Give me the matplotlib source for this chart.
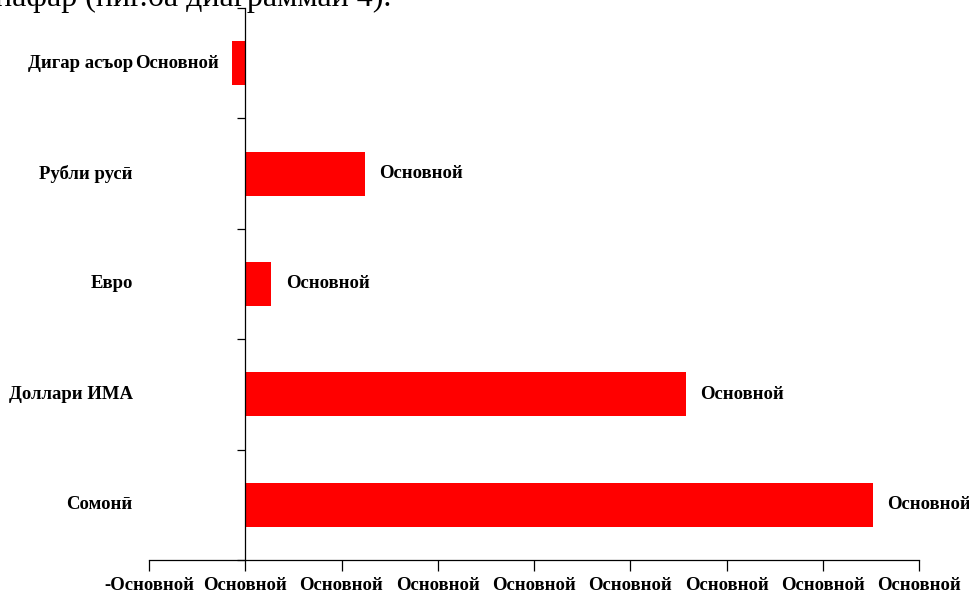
import numpy as np
import matplotlib.pyplot as plt

# categories from bottom to top
categories = ['Сомонӣ', 'Доллари ИМА', 'Евро', 'Рубли русӣ', 'Дигар асъор']
values = [6.52, 4.58, 0.27, 1.24, -0.135]
bar_label = 'Основной'
xticks = [-1, 0, 1, 2, 3, 4, 5, 6, 7]
xtick_labels = ['-Основной'] + ['Основной'] * 8

plt.rcParams['font.family'] = ['Liberation Serif', 'DejaVu Serif']
fs = 13.5

fig = plt.figure(figsize=(9.7, 5.93), dpi=100)
ax = fig.add_axes([149/970, 33/593, 770/970, 552/593])

y = np.arange(len(categories))
ax.barh(y, values, height=0.4, color='#ff0000')

ax.set_xlim(-1, 7)
ax.set_ylim(-0.5, len(categories) - 0.5)

for yi, v in zip(y, values):
    if v >= 0:
        ax.text(v + 0.15, yi, bar_label, ha='left', va='center',
                fontsize=fs, fontweight='bold')
    else:
        ax.text(v - 0.14, yi, bar_label, ha='right', va='center',
                fontsize=fs, fontweight='bold')

ax.spines['top'].set_visible(False)
ax.spines['right'].set_visible(False)
ax.spines['left'].set_position(('data', 0))
ax.spines['left'].set_linewidth(0.9)
ax.spines['bottom'].set_linewidth(0.9)

ax.set_xticks(xticks)
ax.set_xticklabels(xtick_labels, fontsize=fs, fontweight='bold')
ax.tick_params(axis='x', direction='out', length=8, width=0.9, pad=4)

ax.set_yticks(np.arange(-0.5, len(categories)), minor=False)
ax.set_yticklabels([])
ax.tick_params(axis='y', direction='out', length=6, width=0.9)
for yi, c in zip(y, categories):
    ax.text(-1.17, yi, c, ha='right', va='center', fontsize=fs,
            fontweight='bold')

# cut-off text from the page above the chart
fig.text(-0.005, 1 - 6/593, 'нафар (ниг.ба диаграммаи 4).', fontsize=23,
         va='baseline', ha='left')

fig.savefig('out.png', dpi=100)
